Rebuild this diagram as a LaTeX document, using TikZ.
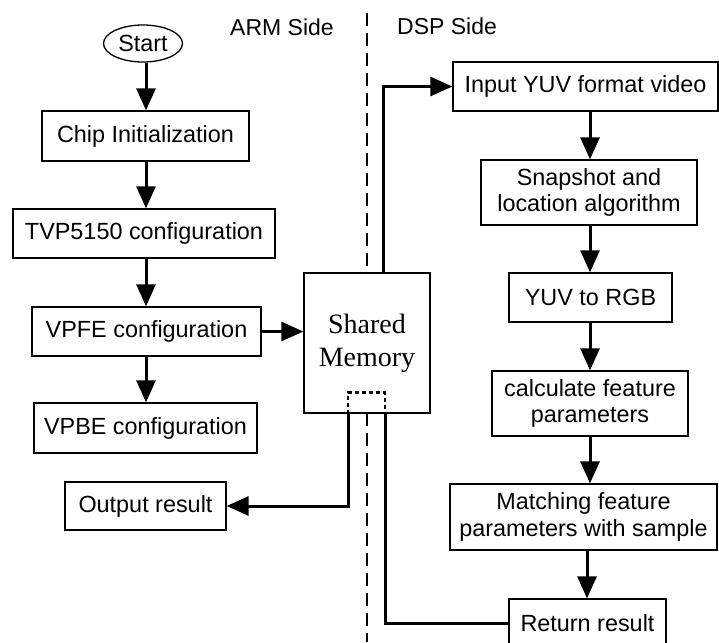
\documentclass[tikz,border=0pt]{standalone}
\usepackage{fontspec}
\setmainfont{Liberation Sans}
\newfontfamily\serifface{Liberation Serif}
\usetikzlibrary{arrows.meta,shapes.geometric}

\tikzset{
  boxbase/.style={draw, line width=1.3pt, fill=white, inner sep=0pt, align=center,
    font=\fontsize{23.4}{26.5}\selectfont},
  stepbox/.style args={#1/#2}{boxbase, rectangle, minimum width=#1pt, minimum height=#2pt},
  flow/.style={line width=3pt, -{Triangle[length=22pt,width=19pt]}},
  link/.style={line width=3pt},
  divider/.style={line width=1.5pt, dash pattern=on 13pt off 7pt},
  dotlink/.style={line width=2.5pt, dash pattern=on 4pt off 3pt},
  sidelabel/.style={font=\fontsize{23}{26}\selectfont, inner sep=0pt}
}

\begin{document}
\begin{tikzpicture}[x=1pt, y=-1pt]
\useasboundingbox (0,0) rectangle (719,642);

% ARM / DSP divider
\draw[divider] (367,13) -- (367,642);
\node[sidelabel] (arm) at (282,27) {ARM Side};
\node[sidelabel] (dsp) at (447,26) {DSP Side};

% ARM side flow
\node[boxbase, ellipse, minimum width=79pt, minimum height=37pt] (start) at (143,43.5) {Start};
\node[stepbox=207/50] (chip) at (145.5,136) {Chip Initialization};
\node[stepbox=262/49] (tvp)  at (144,233.5) {TVP5150 configuration};
\node[stepbox=229/49] (vpfe) at (146.5,331.5) {VPFE configuration};
\node[stepbox=223/50] (vpbe) at (145.5,428) {VPBE configuration};
\node[stepbox=161/48] (out)  at (145.5,506) {Output result};

% shared memory
\node[stepbox=126/140, font=\serifface\fontsize{28}{33}\selectfont] (shm) at (367,343) {Shared\\Memory};

% DSP side flow
\node[stepbox=265/49] (inp)   at (585.5,86.5) {Input YUV format video};
\node[stepbox=216/65] (snap)  at (589,192.5) {Snapshot and\\location algorithm};
\node[stepbox=163/49] (yuv)   at (590.5,297.5) {YUV to RGB};
\node[stepbox=196/65] (calc)  at (590,403.5) {calculate feature\\parameters};
\node[stepbox=267/66] (match) at (583.5,517) {Matching feature\\parameters with sample};
\node[stepbox=157/49] (ret)   at (587.5,623.5) {Return result};

\coordinate (lcol) at (146,0);
\coordinate (rcol) at (590,0);

% ARM side arrows
\draw[flow] (start.south -| lcol) -- (chip.north -| lcol);
\draw[flow] (chip.south -| lcol) -- (tvp.north -| lcol);
\draw[flow] (tvp.south -| lcol) -- (vpfe.north -| lcol);
\draw[flow] (vpfe.south -| lcol) -- (vpbe.north -| lcol);
\draw[flow] (vpfe.east) -- (vpfe.east -| shm.west);

% DSP side arrows
\draw[flow] (inp.south -| rcol) -- (snap.north -| rcol);
\draw[flow] (snap.south -| rcol) -- (yuv.north -| rcol);
\draw[flow] (yuv.south -| rcol) -- (calc.north -| rcol);
\draw[flow] (calc.south -| rcol) -- (match.north -| rcol);
\draw[flow] ([xshift=-3pt]match.south -| rcol) -- ([xshift=-3pt]ret.north -| rcol);

% shared memory links
\coordinate (pl) at ([xshift=-19pt]shm.south);
\coordinate (pr) at ([xshift=18pt]shm.south);
\draw[dotlink] (pl) -- ++(0,-21) -| (pr);
\draw[flow] ([xshift=16pt]shm.north) |- (inp.west);
\draw[flow] (pl) |- (out.east);
\draw[link] (pr) |- (ret.west);
\end{tikzpicture}
\end{document}
